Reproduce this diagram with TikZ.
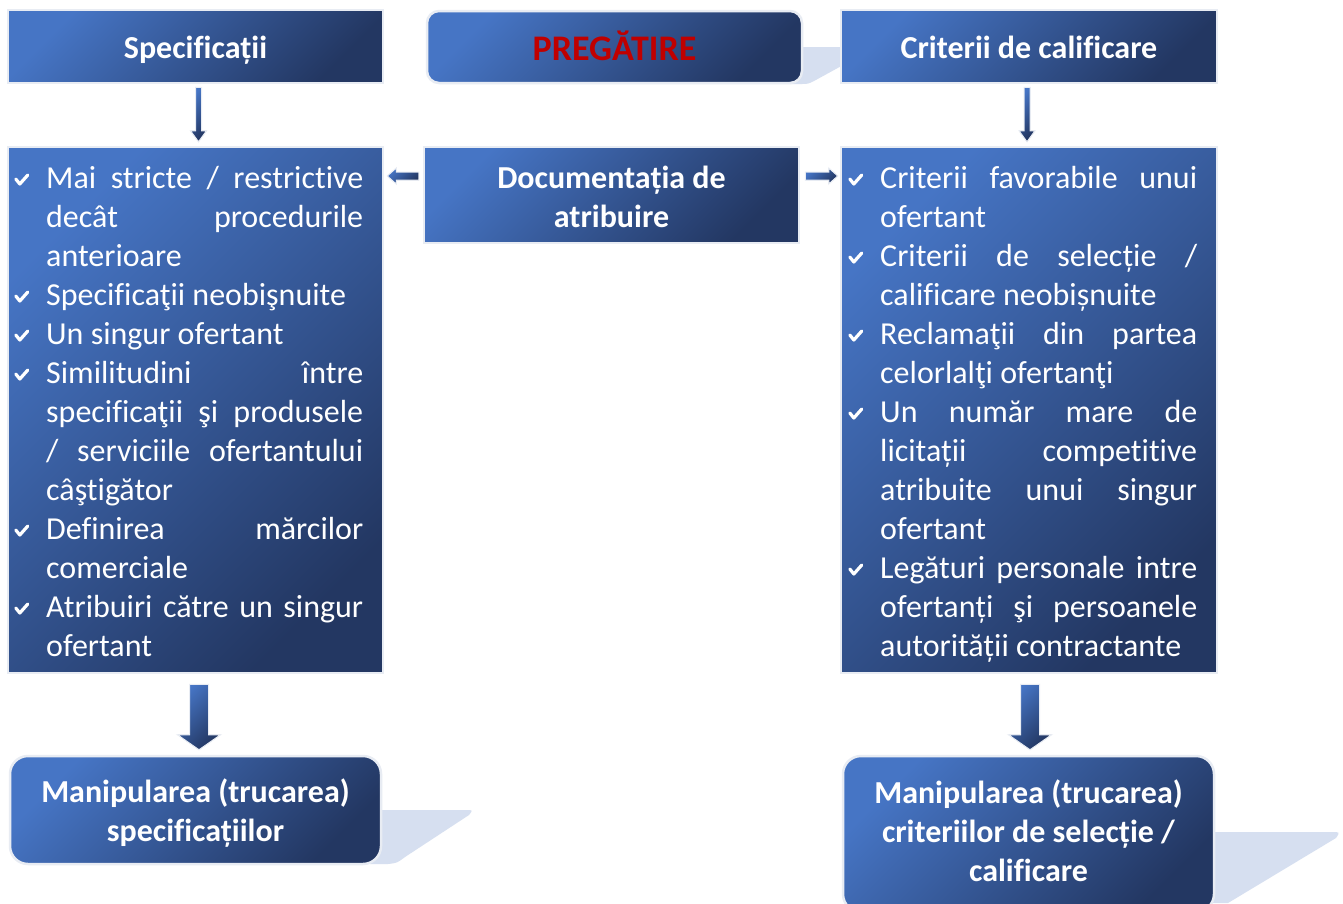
\documentclass[tikz,border=0pt]{standalone}
\usepackage{fontspec}
\setmainfont{Carlito}[Ligatures=NoCommon]
\usetikzlibrary{calc}
\definecolor{c1}{RGB}{70,117,197}
\definecolor{c2}{RGB}{35,55,98}
\definecolor{bordc}{RGB}{232,236,243}
\definecolor{shad}{RGB}{214,223,240}
\definecolor{prepred}{RGB}{192,0,0}
\newcommand{\chk}{\tikz[baseline=0pt]\draw[white,line width=3.2pt,line cap=round,line join=round] (2pt,9pt)--(6pt,4pt)--(14pt,13pt);}
\newcommand{\jl}[1]{\makebox[317pt][s]{#1}}
\newcommand{\ck}{\makebox[32pt][l]{\chk}}
\newcommand{\ind}{\hspace*{32pt}}
\newcommand{\toprule}[1]{\rule{0pt}{#1}}
\newcommand{\botrule}[1]{\rule[-#1]{0pt}{0pt}}
\tikzset{
  boxbase/.style={rectangle, draw=bordc, line width=2.5pt, top color=c1, bottom color=c2, shading angle=45, inner sep=0pt},
  hdr/.style={boxbase, text=white, font=\bfseries\fontsize{32}{39}\selectfont, align=center},
  listbox/.style={boxbase},
  listtext/.style={anchor=base west, inner sep=0pt, text=white, font=\fontsize{32}{39}\selectfont},
  arr/.style={draw=bordc, line width=1pt, top color=c1, bottom color=c2, shading angle=45},
  shadowfill/.style={fill=shad, draw=none}
}
\begin{document}
\begin{tikzpicture}[x=1pt,y=-1pt]
\useasboundingbox[fill=white] (0,0) rectangle (1343,903);
% shadows
\fill[shadowfill] (790,47) -- (845,47) -- (845,64) -- (814,81) .. controls (808,84) .. (800,84) -- (790,84) -- cycle;
\fill[shadowfill] (370,810) -- (466,810) .. controls (473,810) .. (469,815) -- (405,857) .. controls (397,863) .. (388,864) -- (370,864) -- cycle;
\fill[shadowfill] (1200,832) -- (1332,832) .. controls (1340,832) .. (1336,838) -- (1228,903) -- (1200,903) -- cycle;
% header boxes
\node[hdr, minimum width=375pt, minimum height=73pt] (spec) at (195.5,46.5) {\toprule{29pt}Specificații};
\node[hdr, rounded corners=12pt, minimum width=375pt, minimum height=72pt, text=prepred, font=\bfseries\fontsize{36}{40}\selectfont] (prep) at (614.5,47) {PREGĂTIRE\botrule{2pt}};
\node[hdr, minimum width=376pt, minimum height=73pt] (crit) at (1029,46.5) {\toprule{25pt}Criterii de calificare};
% middle row
\node[listbox, minimum width=375pt, minimum height=526pt] (lbox) at (195.5,410) {};
\node[hdr, minimum width=375pt, minimum height=96pt] (doc) at (611.5,195) {\toprule{26pt}Documentația de\\atribuire};
\node[listbox, minimum width=376pt, minimum height=526pt] (rbox) at (1029,410) {};
% bottom boxes
\node[hdr, rounded corners=18pt, minimum width=371pt, minimum height=108pt] (lman) at (195.5,810) {\toprule{30pt}Manipularea (trucarea)\\specificațiilor};
\node[hdr, rounded corners=18pt, minimum width=371pt, minimum height=156pt] (rman) at (1028.5,834) {Manipularea (trucarea)\\criteriilor de selecție /\\calificare\botrule{6pt}};
% list texts
\node[listtext] (ltext) at (14,188) {\parbox[t]{349pt}{%
\ck\jl{Mai stricte / restrictive}\\
\ind\jl{decât procedurile}\\
\ind anterioare\\
\ck Specificaţii neobişnuite\\
\ck Un singur ofertant\\
\ck\jl{Similitudini între}\\
\ind\jl{specificaţii şi produsele}\\
\ind\jl{/ serviciile ofertantului}\\
\ind câştigător\\
\ck\jl{Definirea mărcilor}\\
\ind comerciale\\
\ck\jl{Atribuiri către un singur}\\
\ind ofertant}};
\node[listtext] (rtext) at (848,188) {\parbox[t]{350pt}{%
\ck\jl{Criterii favorabile unui}\\
\ind ofertant\\
\ck\jl{Criterii de selecție /}\\
\ind calificare neobișnuite\\
\ck\jl{Reclamaţii din partea}\\
\ind celorlalţi ofertanţi\\
\ck\jl{Un număr mare de}\\
\ind\jl{licitații competitive}\\
\ind\jl{atribuite unui singur}\\
\ind ofertant\\
\ck\jl{Legături personale intre}\\
\ind\jl{ofertanți şi persoanele}\\
\ind autorității contractante}};
% small down arrows
\shade[arr] ($(spec.south)+(0,3)$) -- ($(lbox.north)+(0,-15)$) -- ($(lbox.north)+(-5,-15)$) -- ($(lbox.north)+(3,-4)$) -- ($(lbox.north)+(11,-15)$) -- ($(lbox.north)+(6,-15)$) -- ($(spec.south)+(6,3)$) -- cycle;
\shade[arr] ($(crit.south)+(-5,3)$) -- ($(rbox.north)+(-5,-15)$) -- ($(rbox.north)+(-10,-15)$) -- ($(rbox.north)+(-2,-4)$) -- ($(rbox.north)+(6,-15)$) -- ($(rbox.north)+(1,-15)$) -- ($(crit.south)+(1,3)$) -- cycle;
% horizontal arrows
\shade[arr] ($(doc.west)+(-4,-23)$) -- ($(lbox.east |- doc.west)+(12,-23)$) -- ($(lbox.east |- doc.west)+(12,-27)$) -- ($(lbox.east |- doc.west)+(3,-19)$) -- ($(lbox.east |- doc.west)+(12,-11)$) -- ($(lbox.east |- doc.west)+(12,-15)$) -- ($(doc.west)+(-4,-15)$) -- cycle;
\shade[arr] ($(doc.east)+(5,-23)$) -- ($(rbox.west |- doc.east)+(-11,-23)$) -- ($(rbox.west |- doc.east)+(-11,-27)$) -- ($(rbox.west |- doc.east)+(-2,-19)$) -- ($(rbox.west |- doc.east)+(-11,-11)$) -- ($(rbox.west |- doc.east)+(-11,-15)$) -- ($(doc.east)+(5,-15)$) -- cycle;
% big down arrows
\shade[arr] ($(lbox.south)+(-6,10)$) -- ($(lman.north)+(-6,-20)$) -- ($(lman.north)+(-18,-20)$) -- ($(lman.north)+(3.5,-5)$) -- ($(lman.north)+(25,-20)$) -- ($(lman.north)+(13,-20)$) -- ($(lbox.south)+(13,10)$) -- cycle;
\shade[arr] ($(rbox.south)+(-8.5,10)$) -- ($(rman.north)+(-8,-20)$) -- ($(rman.north)+(-20,-20)$) -- ($(rman.north)+(1.5,-5)$) -- ($(rman.north)+(23,-20)$) -- ($(rman.north)+(11,-20)$) -- ($(rbox.south)+(10.5,10)$) -- cycle;
\end{tikzpicture}
\end{document}
